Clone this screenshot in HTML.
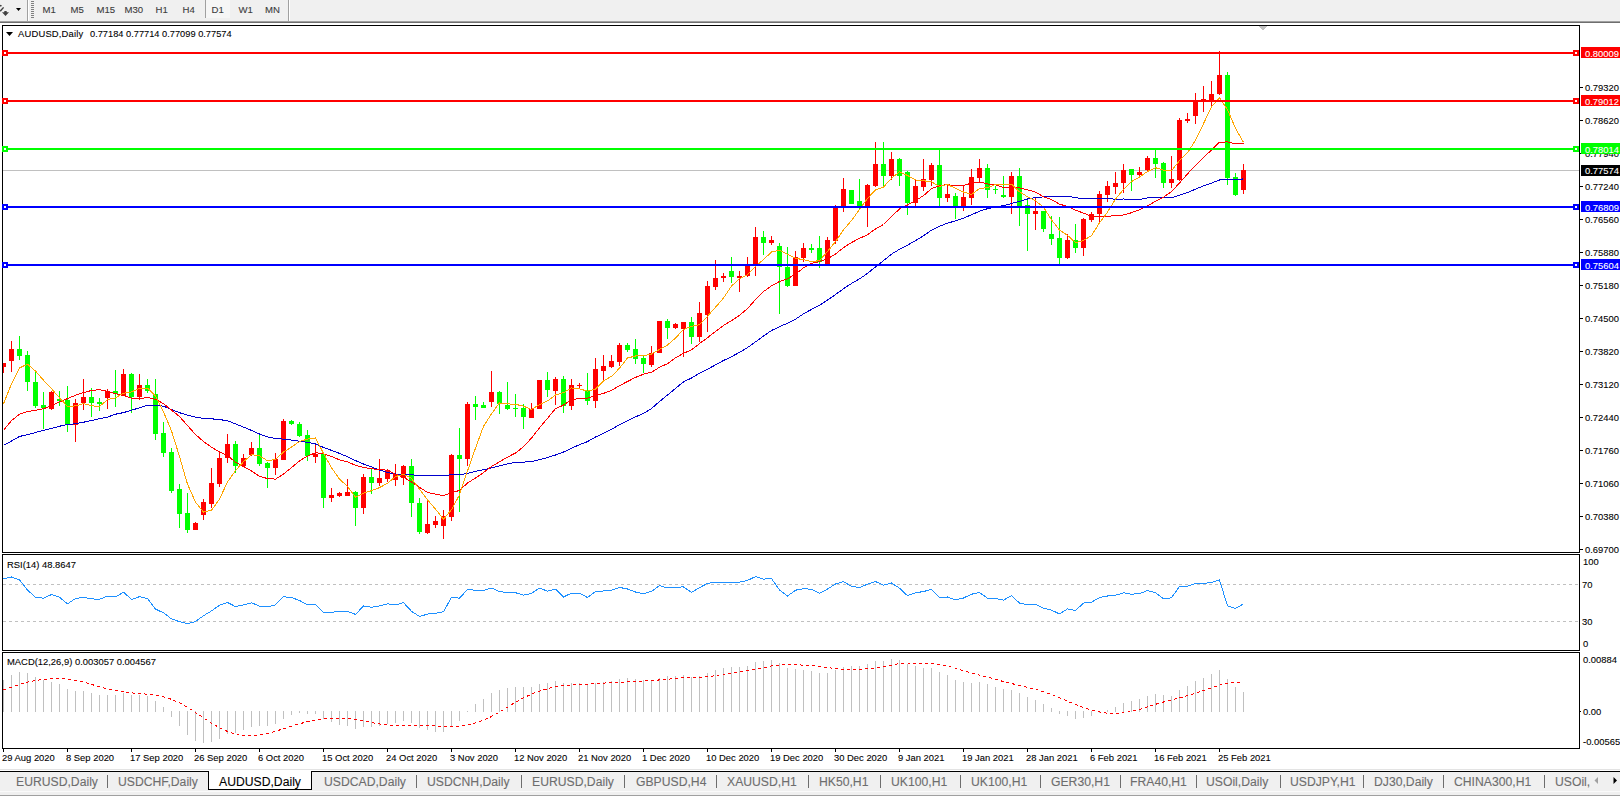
<!DOCTYPE html><html><head><meta charset="utf-8"><style>
html,body{margin:0;padding:0;background:#fff;}
body{width:1620px;height:797px;position:relative;overflow:hidden;font-family:"Liberation Sans",sans-serif;}
.t{position:absolute;white-space:pre;line-height:1;transform-origin:0 0;-webkit-text-stroke:0.1px currentColor;font-family:"Liberation Sans",sans-serif;}
</style></head><body>
<div style="position:absolute;left:0;top:0;width:1620px;height:21px;background:#f0f0f0"></div><div style="position:absolute;left:0;top:21px;width:1620px;height:1px;background:#a0a0a0"></div><div style="position:absolute;left:0;top:22px;width:1620px;height:1px;background:#6e6e6e"></div><div style="position:absolute;left:27px;top:0;width:1px;height:21px;background:#a0a0a0"></div><div style="position:absolute;left:28px;top:0;width:1px;height:21px;background:#fff"></div><div style="position:absolute;left:288px;top:0;width:1px;height:21px;background:#a0a0a0"></div><div style="position:absolute;left:289px;top:0;width:1px;height:21px;background:#fff"></div><div style="position:absolute;left:205px;top:0;width:1px;height:18px;background:#a0a0a0"></div><div style="position:absolute;left:206px;top:0;width:24px;height:18px;background:#f6f6f6"></div><svg width="40" height="21" style="position:absolute;left:0;top:0" ><path d="M0 4.7 L2 5.6 L1.2 6.6 L0 6.6 Z" fill="#404040"/><path d="M3.6 7.4 L0.2 11.2" stroke="#404040" stroke-width="1.4" fill="none"/><path d="M2 12.3 L9 12.3 L5.5 16 Z M4.3 11 H6.7 V12.5 H4.3 Z" fill="#404040"/><path d="M16 8 L21 8 L18.5 11 Z" fill="#000"/><rect x="31" y="1" width="3" height="1" fill="#808080"/><rect x="31" y="3" width="3" height="1" fill="#808080"/><rect x="31" y="5" width="3" height="1" fill="#808080"/><rect x="31" y="7" width="3" height="1" fill="#808080"/><rect x="31" y="9" width="3" height="1" fill="#808080"/><rect x="31" y="11" width="3" height="1" fill="#808080"/><rect x="31" y="13" width="3" height="1" fill="#808080"/><rect x="31" y="15" width="3" height="1" fill="#808080"/><rect x="31" y="17" width="3" height="1" fill="#808080"/></svg><div class="t" style="left:42.5px;top:5px;font-size:9.6px;color:#3c3c3c">M1</div><div class="t" style="left:70.5px;top:5px;font-size:9.6px;color:#3c3c3c">M5</div><div class="t" style="left:96.5px;top:5px;font-size:9.6px;color:#3c3c3c">M15</div><div class="t" style="left:124.5px;top:5px;font-size:9.6px;color:#3c3c3c">M30</div><div class="t" style="left:155.5px;top:5px;font-size:9.6px;color:#3c3c3c">H1</div><div class="t" style="left:182.5px;top:5px;font-size:9.6px;color:#3c3c3c">H4</div><div class="t" style="left:211.5px;top:5px;font-size:9.6px;color:#3c3c3c">D1</div><div class="t" style="left:238.5px;top:5px;font-size:9.6px;color:#3c3c3c">W1</div><div class="t" style="left:265px;top:5px;font-size:9.6px;color:#3c3c3c">MN</div><svg width="1620" height="797" style="position:absolute;left:0;top:0" shape-rendering="crispEdges"><rect x="2.5" y="25.5" width="1577" height="527" fill="none" stroke="#000" stroke-width="1"/><rect x="2.5" y="554.5" width="1577" height="96" fill="none" stroke="#000" stroke-width="1"/><rect x="2.5" y="652.5" width="1577" height="96" fill="none" stroke="#000" stroke-width="1"/><defs><clipPath id="cm"><rect x="3" y="26" width="1576" height="526"/></clipPath><clipPath id="cr"><rect x="3" y="555" width="1576" height="95"/></clipPath><clipPath id="cd"><rect x="3" y="653" width="1576" height="95"/></clipPath></defs><g clip-path="url(#cm)"><rect x="3" y="170" width="1576" height="1" fill="#c0c0c0"/><path d="M1258 26 L1267 26 L1262.5 30.5 Z" fill="#c0c0c0"/><path d="M6 32 L13 32 L9.5 36 Z" fill="#000" shape-rendering="auto"/><rect x="3" y="363" width="1" height="10" fill="#ff0000"/><rect x="1" y="363" width="5" height="4" fill="#ff0000"/><rect x="11" y="341" width="1" height="31" fill="#ff0000"/><rect x="9" y="349" width="5" height="12" fill="#ff0000"/><rect x="19" y="336" width="1" height="24" fill="#00ff00"/><rect x="17" y="349" width="5" height="7" fill="#00ff00"/><rect x="27" y="351" width="1" height="40" fill="#00ff00"/><rect x="25" y="355" width="5" height="27" fill="#00ff00"/><rect x="35" y="372" width="1" height="36" fill="#00ff00"/><rect x="33" y="382" width="5" height="24" fill="#00ff00"/><rect x="43" y="392" width="1" height="37" fill="#00ff00"/><rect x="41" y="405" width="5" height="3" fill="#00ff00"/><rect x="51" y="391" width="1" height="19" fill="#ff0000"/><rect x="49" y="392" width="5" height="17" fill="#ff0000"/><rect x="59" y="391" width="1" height="15" fill="#00ff00"/><rect x="57" y="399" width="5" height="2" fill="#00ff00"/><rect x="67" y="386" width="1" height="46" fill="#00ff00"/><rect x="65" y="400" width="5" height="25" fill="#00ff00"/><rect x="75" y="399" width="1" height="43" fill="#ff0000"/><rect x="73" y="403" width="5" height="22" fill="#ff0000"/><rect x="83" y="379" width="1" height="31" fill="#ff0000"/><rect x="81" y="397" width="5" height="6" fill="#ff0000"/><rect x="91" y="388" width="1" height="29" fill="#00ff00"/><rect x="89" y="397" width="5" height="6" fill="#00ff00"/><rect x="99" y="398" width="1" height="13" fill="#00ff00"/><rect x="97" y="402" width="5" height="2" fill="#00ff00"/><rect x="107" y="389" width="1" height="20" fill="#ff0000"/><rect x="105" y="391" width="5" height="7" fill="#ff0000"/><rect x="115" y="370" width="1" height="37" fill="#00ff00"/><rect x="113" y="391" width="5" height="3" fill="#00ff00"/><rect x="123" y="369" width="1" height="27" fill="#ff0000"/><rect x="121" y="374" width="5" height="22" fill="#ff0000"/><rect x="131" y="373" width="1" height="40" fill="#00ff00"/><rect x="129" y="374" width="5" height="23" fill="#00ff00"/><rect x="139" y="374" width="1" height="26" fill="#ff0000"/><rect x="137" y="385" width="5" height="12" fill="#ff0000"/><rect x="147" y="379" width="1" height="14" fill="#00ff00"/><rect x="145" y="385" width="5" height="6" fill="#00ff00"/><rect x="155" y="379" width="1" height="61" fill="#00ff00"/><rect x="153" y="394" width="5" height="40" fill="#00ff00"/><rect x="163" y="422" width="1" height="35" fill="#00ff00"/><rect x="161" y="433" width="5" height="20" fill="#00ff00"/><rect x="171" y="448" width="1" height="45" fill="#00ff00"/><rect x="169" y="452" width="5" height="39" fill="#00ff00"/><rect x="179" y="484" width="1" height="44" fill="#00ff00"/><rect x="177" y="489" width="5" height="25" fill="#00ff00"/><rect x="187" y="493" width="1" height="40" fill="#00ff00"/><rect x="185" y="513" width="5" height="17" fill="#00ff00"/><rect x="195" y="522" width="1" height="8" fill="#ff0000"/><rect x="193" y="523" width="5" height="7" fill="#ff0000"/><rect x="203" y="499" width="1" height="21" fill="#ff0000"/><rect x="201" y="502" width="5" height="13" fill="#ff0000"/><rect x="211" y="468" width="1" height="40" fill="#ff0000"/><rect x="209" y="483" width="5" height="21" fill="#ff0000"/><rect x="219" y="452" width="1" height="35" fill="#ff0000"/><rect x="217" y="458" width="5" height="26" fill="#ff0000"/><rect x="227" y="434" width="1" height="29" fill="#ff0000"/><rect x="225" y="444" width="5" height="14" fill="#ff0000"/><rect x="235" y="441" width="1" height="32" fill="#00ff00"/><rect x="233" y="444" width="5" height="22" fill="#00ff00"/><rect x="243" y="454" width="1" height="12" fill="#ff0000"/><rect x="241" y="458" width="5" height="8" fill="#ff0000"/><rect x="251" y="442" width="1" height="14" fill="#ff0000"/><rect x="249" y="448" width="5" height="7" fill="#ff0000"/><rect x="259" y="435" width="1" height="31" fill="#00ff00"/><rect x="257" y="448" width="5" height="16" fill="#00ff00"/><rect x="267" y="462" width="1" height="26" fill="#00ff00"/><rect x="265" y="463" width="5" height="5" fill="#00ff00"/><rect x="275" y="453" width="1" height="22" fill="#ff0000"/><rect x="273" y="459" width="5" height="9" fill="#ff0000"/><rect x="283" y="419" width="1" height="41" fill="#ff0000"/><rect x="281" y="421" width="5" height="39" fill="#ff0000"/><rect x="291" y="420" width="1" height="5" fill="#00ff00"/><rect x="289" y="421" width="5" height="3" fill="#00ff00"/><rect x="299" y="422" width="1" height="15" fill="#00ff00"/><rect x="297" y="424" width="5" height="12" fill="#00ff00"/><rect x="307" y="430" width="1" height="31" fill="#00ff00"/><rect x="305" y="435" width="5" height="21" fill="#00ff00"/><rect x="315" y="443" width="1" height="20" fill="#ff0000"/><rect x="313" y="454" width="5" height="3" fill="#ff0000"/><rect x="323" y="452" width="1" height="56" fill="#00ff00"/><rect x="321" y="454" width="5" height="44" fill="#00ff00"/><rect x="331" y="488" width="1" height="14" fill="#ff0000"/><rect x="329" y="495" width="5" height="3" fill="#ff0000"/><rect x="339" y="492" width="1" height="5" fill="#ff0000"/><rect x="337" y="493" width="5" height="3" fill="#ff0000"/><rect x="347" y="479" width="1" height="17" fill="#ff0000"/><rect x="345" y="492" width="5" height="4" fill="#ff0000"/><rect x="355" y="491" width="1" height="35" fill="#00ff00"/><rect x="353" y="492" width="5" height="16" fill="#00ff00"/><rect x="363" y="474" width="1" height="40" fill="#ff0000"/><rect x="361" y="477" width="5" height="31" fill="#ff0000"/><rect x="371" y="469" width="1" height="25" fill="#00ff00"/><rect x="369" y="477" width="5" height="6" fill="#00ff00"/><rect x="379" y="459" width="1" height="27" fill="#ff0000"/><rect x="377" y="478" width="5" height="5" fill="#ff0000"/><rect x="387" y="469" width="1" height="13" fill="#ff0000"/><rect x="385" y="470" width="5" height="9" fill="#ff0000"/><rect x="395" y="464" width="1" height="22" fill="#ff0000"/><rect x="393" y="474" width="5" height="6" fill="#ff0000"/><rect x="403" y="465" width="1" height="20" fill="#ff0000"/><rect x="401" y="466" width="5" height="12" fill="#ff0000"/><rect x="411" y="459" width="1" height="58" fill="#00ff00"/><rect x="409" y="466" width="5" height="37" fill="#00ff00"/><rect x="419" y="498" width="1" height="36" fill="#00ff00"/><rect x="417" y="503" width="5" height="29" fill="#00ff00"/><rect x="427" y="500" width="1" height="34" fill="#ff0000"/><rect x="425" y="524" width="5" height="9" fill="#ff0000"/><rect x="435" y="516" width="1" height="12" fill="#ff0000"/><rect x="433" y="521" width="5" height="4" fill="#ff0000"/><rect x="443" y="510" width="1" height="29" fill="#ff0000"/><rect x="441" y="516" width="5" height="10" fill="#ff0000"/><rect x="451" y="454" width="1" height="67" fill="#ff0000"/><rect x="449" y="455" width="5" height="62" fill="#ff0000"/><rect x="459" y="428" width="1" height="84" fill="#00ff00"/><rect x="457" y="455" width="5" height="4" fill="#00ff00"/><rect x="467" y="402" width="1" height="64" fill="#ff0000"/><rect x="465" y="404" width="5" height="55" fill="#ff0000"/><rect x="475" y="396" width="1" height="24" fill="#00ff00"/><rect x="473" y="404" width="5" height="3" fill="#00ff00"/><rect x="483" y="402" width="1" height="6" fill="#00ff00"/><rect x="481" y="405" width="5" height="3" fill="#00ff00"/><rect x="491" y="371" width="1" height="36" fill="#ff0000"/><rect x="489" y="392" width="5" height="10" fill="#ff0000"/><rect x="499" y="391" width="1" height="23" fill="#00ff00"/><rect x="497" y="392" width="5" height="12" fill="#00ff00"/><rect x="507" y="382" width="1" height="28" fill="#00ff00"/><rect x="505" y="405" width="5" height="4" fill="#00ff00"/><rect x="515" y="394" width="1" height="23" fill="#00ff00"/><rect x="513" y="408" width="5" height="1" fill="#00ff00"/><rect x="523" y="404" width="1" height="25" fill="#00ff00"/><rect x="521" y="408" width="5" height="9" fill="#00ff00"/><rect x="531" y="403" width="1" height="15" fill="#ff0000"/><rect x="529" y="409" width="5" height="9" fill="#ff0000"/><rect x="539" y="380" width="1" height="29" fill="#ff0000"/><rect x="537" y="380" width="5" height="29" fill="#ff0000"/><rect x="547" y="372" width="1" height="25" fill="#00ff00"/><rect x="545" y="380" width="5" height="10" fill="#00ff00"/><rect x="555" y="377" width="1" height="28" fill="#ff0000"/><rect x="553" y="379" width="5" height="12" fill="#ff0000"/><rect x="563" y="376" width="1" height="37" fill="#00ff00"/><rect x="561" y="379" width="5" height="27" fill="#00ff00"/><rect x="571" y="379" width="1" height="31" fill="#ff0000"/><rect x="569" y="385" width="5" height="21" fill="#ff0000"/><rect x="579" y="383" width="1" height="6" fill="#ff0000"/><rect x="577" y="385" width="5" height="1" fill="#ff0000"/><rect x="587" y="373" width="1" height="32" fill="#00ff00"/><rect x="585" y="391" width="5" height="10" fill="#00ff00"/><rect x="595" y="358" width="1" height="50" fill="#ff0000"/><rect x="593" y="369" width="5" height="32" fill="#ff0000"/><rect x="603" y="355" width="1" height="25" fill="#ff0000"/><rect x="601" y="366" width="5" height="5" fill="#ff0000"/><rect x="611" y="355" width="1" height="13" fill="#ff0000"/><rect x="609" y="361" width="5" height="6" fill="#ff0000"/><rect x="619" y="343" width="1" height="23" fill="#ff0000"/><rect x="617" y="345" width="5" height="17" fill="#ff0000"/><rect x="627" y="343" width="1" height="9" fill="#00ff00"/><rect x="625" y="345" width="5" height="5" fill="#00ff00"/><rect x="635" y="339" width="1" height="25" fill="#00ff00"/><rect x="633" y="349" width="5" height="10" fill="#00ff00"/><rect x="643" y="356" width="1" height="17" fill="#00ff00"/><rect x="641" y="358" width="5" height="6" fill="#00ff00"/><rect x="651" y="346" width="1" height="21" fill="#ff0000"/><rect x="649" y="353" width="5" height="12" fill="#ff0000"/><rect x="659" y="321" width="1" height="32" fill="#ff0000"/><rect x="657" y="321" width="5" height="32" fill="#ff0000"/><rect x="667" y="319" width="1" height="20" fill="#00ff00"/><rect x="665" y="321" width="5" height="7" fill="#00ff00"/><rect x="675" y="323" width="1" height="6" fill="#ff0000"/><rect x="673" y="324" width="5" height="4" fill="#ff0000"/><rect x="683" y="322" width="1" height="35" fill="#ff0000"/><rect x="681" y="322" width="5" height="7" fill="#ff0000"/><rect x="691" y="317" width="1" height="27" fill="#00ff00"/><rect x="689" y="322" width="5" height="15" fill="#00ff00"/><rect x="699" y="302" width="1" height="40" fill="#ff0000"/><rect x="697" y="313" width="5" height="24" fill="#ff0000"/><rect x="707" y="281" width="1" height="51" fill="#ff0000"/><rect x="705" y="286" width="5" height="29" fill="#ff0000"/><rect x="715" y="260" width="1" height="30" fill="#ff0000"/><rect x="713" y="278" width="5" height="9" fill="#ff0000"/><rect x="723" y="273" width="1" height="9" fill="#ff0000"/><rect x="721" y="276" width="5" height="2" fill="#ff0000"/><rect x="731" y="257" width="1" height="26" fill="#00ff00"/><rect x="729" y="271" width="5" height="6" fill="#00ff00"/><rect x="739" y="271" width="1" height="21" fill="#ff0000"/><rect x="737" y="276" width="5" height="2" fill="#ff0000"/><rect x="747" y="257" width="1" height="20" fill="#ff0000"/><rect x="745" y="265" width="5" height="11" fill="#ff0000"/><rect x="755" y="227" width="1" height="49" fill="#ff0000"/><rect x="753" y="237" width="5" height="28" fill="#ff0000"/><rect x="763" y="231" width="1" height="24" fill="#00ff00"/><rect x="761" y="237" width="5" height="6" fill="#00ff00"/><rect x="771" y="236" width="1" height="9" fill="#ff0000"/><rect x="769" y="240" width="5" height="3" fill="#ff0000"/><rect x="779" y="243" width="1" height="71" fill="#00ff00"/><rect x="777" y="246" width="5" height="21" fill="#00ff00"/><rect x="787" y="247" width="1" height="40" fill="#00ff00"/><rect x="785" y="267" width="5" height="19" fill="#00ff00"/><rect x="795" y="251" width="1" height="35" fill="#ff0000"/><rect x="793" y="257" width="5" height="29" fill="#ff0000"/><rect x="803" y="243" width="1" height="19" fill="#ff0000"/><rect x="801" y="248" width="5" height="10" fill="#ff0000"/><rect x="811" y="244" width="1" height="9" fill="#00ff00"/><rect x="809" y="248" width="5" height="2" fill="#00ff00"/><rect x="819" y="236" width="1" height="32" fill="#00ff00"/><rect x="817" y="248" width="5" height="14" fill="#00ff00"/><rect x="827" y="237" width="1" height="27" fill="#ff0000"/><rect x="825" y="240" width="5" height="24" fill="#ff0000"/><rect x="835" y="205" width="1" height="39" fill="#ff0000"/><rect x="833" y="207" width="5" height="34" fill="#ff0000"/><rect x="843" y="178" width="1" height="34" fill="#ff0000"/><rect x="841" y="189" width="5" height="17" fill="#ff0000"/><rect x="851" y="190" width="1" height="14" fill="#00ff00"/><rect x="849" y="190" width="5" height="14" fill="#00ff00"/><rect x="859" y="179" width="1" height="30" fill="#00ff00"/><rect x="857" y="201" width="5" height="6" fill="#00ff00"/><rect x="867" y="184" width="1" height="43" fill="#ff0000"/><rect x="865" y="185" width="5" height="22" fill="#ff0000"/><rect x="875" y="142" width="1" height="45" fill="#ff0000"/><rect x="873" y="164" width="5" height="22" fill="#ff0000"/><rect x="883" y="142" width="1" height="44" fill="#00ff00"/><rect x="881" y="164" width="5" height="12" fill="#00ff00"/><rect x="891" y="152" width="1" height="28" fill="#ff0000"/><rect x="889" y="159" width="5" height="17" fill="#ff0000"/><rect x="899" y="158" width="1" height="28" fill="#00ff00"/><rect x="897" y="159" width="5" height="17" fill="#00ff00"/><rect x="907" y="171" width="1" height="44" fill="#00ff00"/><rect x="905" y="172" width="5" height="31" fill="#00ff00"/><rect x="915" y="180" width="1" height="26" fill="#ff0000"/><rect x="913" y="186" width="5" height="17" fill="#ff0000"/><rect x="923" y="159" width="1" height="32" fill="#ff0000"/><rect x="921" y="179" width="5" height="8" fill="#ff0000"/><rect x="931" y="163" width="1" height="23" fill="#ff0000"/><rect x="929" y="165" width="5" height="15" fill="#ff0000"/><rect x="939" y="150" width="1" height="56" fill="#00ff00"/><rect x="937" y="165" width="5" height="33" fill="#00ff00"/><rect x="947" y="185" width="1" height="17" fill="#ff0000"/><rect x="945" y="194" width="5" height="4" fill="#ff0000"/><rect x="955" y="193" width="1" height="26" fill="#00ff00"/><rect x="953" y="196" width="5" height="10" fill="#00ff00"/><rect x="963" y="186" width="1" height="25" fill="#ff0000"/><rect x="961" y="197" width="5" height="9" fill="#ff0000"/><rect x="971" y="169" width="1" height="36" fill="#ff0000"/><rect x="969" y="177" width="5" height="21" fill="#ff0000"/><rect x="979" y="159" width="1" height="24" fill="#ff0000"/><rect x="977" y="168" width="5" height="10" fill="#ff0000"/><rect x="987" y="164" width="1" height="34" fill="#00ff00"/><rect x="985" y="168" width="5" height="22" fill="#00ff00"/><rect x="995" y="186" width="1" height="8" fill="#00ff00"/><rect x="993" y="189" width="5" height="1" fill="#00ff00"/><rect x="1003" y="176" width="1" height="22" fill="#00ff00"/><rect x="1001" y="195" width="5" height="2" fill="#00ff00"/><rect x="1011" y="172" width="1" height="42" fill="#ff0000"/><rect x="1009" y="176" width="5" height="21" fill="#ff0000"/><rect x="1019" y="168" width="1" height="58" fill="#00ff00"/><rect x="1017" y="176" width="5" height="30" fill="#00ff00"/><rect x="1027" y="199" width="1" height="52" fill="#00ff00"/><rect x="1025" y="205" width="5" height="9" fill="#00ff00"/><rect x="1035" y="198" width="1" height="32" fill="#ff0000"/><rect x="1033" y="211" width="5" height="3" fill="#ff0000"/><rect x="1043" y="211" width="1" height="21" fill="#00ff00"/><rect x="1041" y="211" width="5" height="18" fill="#00ff00"/><rect x="1051" y="216" width="1" height="29" fill="#00ff00"/><rect x="1049" y="234" width="5" height="5" fill="#00ff00"/><rect x="1059" y="217" width="1" height="47" fill="#00ff00"/><rect x="1057" y="238" width="5" height="20" fill="#00ff00"/><rect x="1067" y="234" width="1" height="25" fill="#ff0000"/><rect x="1065" y="240" width="5" height="18" fill="#ff0000"/><rect x="1075" y="224" width="1" height="29" fill="#00ff00"/><rect x="1073" y="240" width="5" height="8" fill="#00ff00"/><rect x="1083" y="218" width="1" height="38" fill="#ff0000"/><rect x="1081" y="219" width="5" height="29" fill="#ff0000"/><rect x="1091" y="212" width="1" height="10" fill="#ff0000"/><rect x="1089" y="214" width="5" height="6" fill="#ff0000"/><rect x="1099" y="191" width="1" height="32" fill="#ff0000"/><rect x="1097" y="194" width="5" height="20" fill="#ff0000"/><rect x="1107" y="181" width="1" height="21" fill="#ff0000"/><rect x="1105" y="186" width="5" height="9" fill="#ff0000"/><rect x="1115" y="172" width="1" height="22" fill="#ff0000"/><rect x="1113" y="183" width="5" height="4" fill="#ff0000"/><rect x="1123" y="164" width="1" height="29" fill="#ff0000"/><rect x="1121" y="170" width="5" height="13" fill="#ff0000"/><rect x="1131" y="169" width="1" height="22" fill="#00ff00"/><rect x="1129" y="169" width="5" height="6" fill="#00ff00"/><rect x="1139" y="167" width="1" height="11" fill="#ff0000"/><rect x="1137" y="172" width="5" height="3" fill="#ff0000"/><rect x="1147" y="156" width="1" height="16" fill="#ff0000"/><rect x="1145" y="158" width="5" height="12" fill="#ff0000"/><rect x="1155" y="150" width="1" height="28" fill="#00ff00"/><rect x="1153" y="158" width="5" height="6" fill="#00ff00"/><rect x="1163" y="162" width="1" height="26" fill="#00ff00"/><rect x="1161" y="163" width="5" height="20" fill="#00ff00"/><rect x="1171" y="156" width="1" height="32" fill="#ff0000"/><rect x="1169" y="179" width="5" height="4" fill="#ff0000"/><rect x="1179" y="118" width="1" height="63" fill="#ff0000"/><rect x="1177" y="120" width="5" height="60" fill="#ff0000"/><rect x="1187" y="113" width="1" height="10" fill="#ff0000"/><rect x="1185" y="119" width="5" height="2" fill="#ff0000"/><rect x="1195" y="93" width="1" height="31" fill="#ff0000"/><rect x="1193" y="101" width="5" height="15" fill="#ff0000"/><rect x="1203" y="86" width="1" height="26" fill="#ff0000"/><rect x="1201" y="99" width="5" height="1" fill="#ff0000"/><rect x="1211" y="81" width="1" height="25" fill="#ff0000"/><rect x="1209" y="94" width="5" height="6" fill="#ff0000"/><rect x="1219" y="51" width="1" height="44" fill="#ff0000"/><rect x="1217" y="75" width="5" height="19" fill="#ff0000"/><rect x="1227" y="72" width="1" height="113" fill="#00ff00"/><rect x="1225" y="75" width="5" height="103" fill="#00ff00"/><rect x="1235" y="173" width="1" height="23" fill="#00ff00"/><rect x="1233" y="177" width="5" height="18" fill="#00ff00"/><rect x="1243" y="164" width="1" height="30" fill="#ff0000"/><rect x="1241" y="170" width="5" height="20" fill="#ff0000"/><polyline points="3.5,445.4 11.5,441.0 19.5,436.5 27.5,434.6 35.5,432.5 43.5,430.4 51.5,428.5 59.5,426.2 67.5,424.6 75.5,423.8 83.5,422.2 91.5,420.6 99.5,418.7 107.5,417.1 115.5,414.2 123.5,412.6 131.5,410.2 139.5,407.8 147.5,405.3 155.5,405.4 163.5,406.2 171.5,409.5 179.5,412.7 187.5,415.1 195.5,417.2 203.5,418.3 211.5,418.8 219.5,419.6 227.5,420.7 235.5,423.9 243.5,427.1 251.5,430.4 259.5,434.0 267.5,436.9 275.5,438.6 283.5,439.1 291.5,440.1 299.5,441.3 307.5,442.3 315.5,444.0 323.5,447.4 331.5,450.4 339.5,453.4 347.5,456.8 355.5,460.6 363.5,464.0 371.5,466.9 379.5,470.0 387.5,472.6 395.5,474.0 403.5,474.4 411.5,474.8 419.5,475.4 427.5,475.2 435.5,475.1 443.5,475.6 451.5,474.7 459.5,474.7 467.5,473.4 475.5,471.4 483.5,469.7 491.5,467.9 499.5,465.9 507.5,463.9 515.5,462.2 523.5,462.1 531.5,461.6 539.5,459.7 547.5,457.5 555.5,455.0 563.5,452.0 571.5,448.3 579.5,444.7 587.5,441.6 595.5,437.0 603.5,433.3 611.5,429.2 619.5,424.8 627.5,420.8 635.5,416.9 643.5,413.5 651.5,408.5 659.5,401.5 667.5,395.0 675.5,388.4 683.5,381.9 691.5,378.0 699.5,373.1 707.5,369.2 715.5,364.9 723.5,360.5 731.5,356.7 739.5,352.4 747.5,347.6 755.5,341.9 763.5,336.1 771.5,330.5 779.5,326.7 787.5,323.2 795.5,319.2 803.5,313.9 811.5,309.4 819.5,305.3 827.5,300.0 835.5,294.6 843.5,288.7 851.5,283.5 859.5,278.9 867.5,273.4 875.5,266.9 883.5,260.6 891.5,254.1 899.5,249.3 907.5,245.1 915.5,240.6 923.5,235.8 931.5,230.1 939.5,226.2 947.5,223.2 955.5,220.8 963.5,218.1 971.5,214.8 979.5,211.2 987.5,208.7 995.5,207.1 1003.5,205.6 1011.5,203.5 1019.5,201.4 1027.5,199.0 1035.5,197.5 1043.5,196.9 1051.5,196.5 1059.5,196.3 1067.5,196.3 1075.5,197.7 1083.5,198.7 1091.5,199.0 1099.5,198.6 1107.5,198.6 1115.5,199.2 1123.5,199.0 1131.5,199.6 1139.5,199.4 1147.5,197.9 1155.5,197.2 1163.5,197.3 1171.5,197.7 1179.5,195.1 1187.5,192.6 1195.5,189.2 1203.5,185.9 1211.5,183.1 1219.5,180.0 1227.5,179.6 1235.5,179.8 1243.5,178.9" fill="none" stroke="#0000cd" stroke-width="1" /><polyline points="3.5,430.4 11.5,420.5 19.5,414.3 27.5,411.6 35.5,410.3 43.5,408.8 51.5,405.5 59.5,401.8 67.5,398.6 75.5,395.3 83.5,392.6 91.5,390.5 99.5,389.7 107.5,391.4 115.5,393.6 123.5,395.4 131.5,398.3 139.5,398.6 147.5,397.5 155.5,399.3 163.5,403.7 171.5,410.1 179.5,416.5 187.5,425.5 195.5,434.5 203.5,441.6 211.5,447.2 219.5,452.0 227.5,455.6 235.5,462.2 243.5,466.5 251.5,471.0 259.5,476.2 267.5,478.6 275.5,479.1 283.5,474.1 291.5,467.6 299.5,460.9 307.5,456.1 315.5,452.7 323.5,453.7 331.5,456.4 339.5,459.9 347.5,461.8 355.5,465.4 363.5,467.4 371.5,468.8 379.5,469.5 387.5,470.3 395.5,474.1 403.5,477.2 411.5,482.0 419.5,487.4 427.5,492.4 435.5,494.1 443.5,495.6 451.5,492.8 459.5,490.4 467.5,483.0 475.5,478.0 483.5,472.6 491.5,466.5 499.5,461.8 507.5,457.1 515.5,453.0 523.5,446.8 531.5,438.0 539.5,427.8 547.5,418.4 555.5,408.6 563.5,405.1 571.5,399.8 579.5,398.5 587.5,398.1 595.5,395.3 603.5,393.4 611.5,390.3 619.5,385.7 627.5,381.5 635.5,377.4 643.5,374.2 651.5,372.2 659.5,367.3 667.5,363.7 675.5,357.8 683.5,353.3 691.5,349.9 699.5,343.6 707.5,337.7 715.5,331.4 723.5,325.4 731.5,320.6 739.5,315.3 747.5,308.6 755.5,299.5 763.5,291.6 771.5,285.8 779.5,281.5 787.5,278.8 795.5,274.1 803.5,267.8 811.5,263.3 819.5,261.6 827.5,258.9 835.5,254.0 843.5,247.7 851.5,242.5 859.5,238.4 867.5,234.7 875.5,229.0 883.5,224.5 891.5,216.7 899.5,208.9 907.5,205.0 915.5,200.6 923.5,195.6 931.5,188.6 939.5,185.6 947.5,184.6 955.5,185.8 963.5,185.4 971.5,183.2 979.5,182.0 987.5,183.9 995.5,184.9 1003.5,187.6 1011.5,187.7 1019.5,187.8 1027.5,189.8 1035.5,192.1 1043.5,196.7 1051.5,199.6 1059.5,204.1 1067.5,206.5 1075.5,210.2 1083.5,213.1 1091.5,216.4 1099.5,216.7 1107.5,216.4 1115.5,215.4 1123.5,215.0 1131.5,212.7 1139.5,209.7 1147.5,205.9 1155.5,201.3 1163.5,197.2 1171.5,191.6 1179.5,183.0 1187.5,173.9 1195.5,165.5 1203.5,157.3 1211.5,150.1 1219.5,142.2 1227.5,141.9 1235.5,143.7 1243.5,143.3" fill="none" stroke="#ff0000" stroke-width="1" /><polyline points="3.5,403.7 11.5,383.9 19.5,368.0 27.5,364.1 35.5,371.1 43.5,380.2 51.5,388.7 59.5,397.8 67.5,406.4 75.5,405.9 83.5,403.6 91.5,405.8 99.5,406.4 107.5,399.7 115.5,397.8 123.5,393.2 131.5,392.0 139.5,388.2 147.5,388.2 155.5,396.2 163.5,411.9 171.5,430.8 179.5,456.6 187.5,484.2 195.5,502.1 203.5,512.0 211.5,510.3 219.5,499.1 227.5,482.0 235.5,470.6 243.5,461.7 251.5,454.7 259.5,455.9 267.5,460.7 275.5,459.4 283.5,452.0 291.5,447.1 299.5,441.5 307.5,439.1 315.5,438.0 323.5,453.4 331.5,467.7 339.5,479.1 347.5,486.5 355.5,497.2 363.5,493.1 371.5,490.7 379.5,487.6 387.5,483.2 395.5,476.6 403.5,474.3 411.5,478.3 419.5,489.2 427.5,499.9 435.5,509.2 443.5,519.2 451.5,509.6 459.5,494.9 467.5,470.9 475.5,448.1 483.5,426.3 491.5,413.8 499.5,402.9 507.5,403.9 515.5,404.3 523.5,406.2 531.5,409.5 539.5,404.7 547.5,400.9 555.5,394.9 563.5,392.7 571.5,387.9 579.5,388.9 587.5,391.1 595.5,389.1 603.5,381.1 611.5,376.3 619.5,368.2 627.5,358.0 635.5,356.0 643.5,355.8 651.5,354.1 659.5,349.4 667.5,345.0 675.5,338.0 683.5,329.5 691.5,326.4 699.5,324.7 707.5,316.3 715.5,307.2 723.5,298.1 731.5,286.1 739.5,278.8 747.5,274.6 755.5,266.3 763.5,259.6 771.5,252.0 779.5,250.2 787.5,254.4 795.5,258.4 803.5,259.6 811.5,261.7 819.5,260.6 827.5,251.5 835.5,241.6 843.5,229.8 851.5,220.5 859.5,209.5 867.5,198.5 875.5,189.8 883.5,187.1 891.5,178.2 899.5,171.8 907.5,175.5 915.5,180.0 923.5,180.7 931.5,181.9 939.5,186.3 947.5,184.5 955.5,188.4 963.5,192.0 971.5,194.4 979.5,188.5 987.5,187.6 995.5,184.5 1003.5,184.4 1011.5,184.2 1019.5,191.8 1027.5,196.7 1035.5,200.8 1043.5,207.2 1051.5,219.8 1059.5,230.0 1067.5,235.3 1075.5,242.6 1083.5,240.5 1091.5,235.6 1099.5,222.8 1107.5,212.1 1115.5,199.1 1123.5,189.3 1131.5,181.5 1139.5,177.1 1147.5,171.5 1155.5,167.7 1163.5,170.2 1171.5,170.9 1179.5,160.5 1187.5,152.8 1195.5,140.3 1203.5,123.6 1211.5,106.8 1219.5,97.8 1227.5,109.6 1235.5,128.3 1243.5,142.4" fill="none" stroke="#ffa500" stroke-width="1" /><rect x="3" y="52" width="1576" height="2" fill="#ff0000"/><rect x="2" y="50" width="6" height="6" fill="#ff0000"/><rect x="4" y="52" width="2" height="2" fill="#fff"/><rect x="1573" y="50" width="6" height="6" fill="#ff0000"/><rect x="1575" y="52" width="2" height="2" fill="#fff"/><rect x="3" y="100" width="1576" height="2" fill="#ff0000"/><rect x="2" y="98" width="6" height="6" fill="#ff0000"/><rect x="4" y="100" width="2" height="2" fill="#fff"/><rect x="1573" y="98" width="6" height="6" fill="#ff0000"/><rect x="1575" y="100" width="2" height="2" fill="#fff"/><rect x="3" y="148" width="1576" height="2" fill="#00ff00"/><rect x="2" y="146" width="6" height="6" fill="#00ff00"/><rect x="4" y="148" width="2" height="2" fill="#fff"/><rect x="1573" y="146" width="6" height="6" fill="#00ff00"/><rect x="1575" y="148" width="2" height="2" fill="#fff"/><rect x="3" y="206" width="1576" height="2" fill="#0000ff"/><rect x="2" y="204" width="6" height="6" fill="#0000ff"/><rect x="4" y="206" width="2" height="2" fill="#fff"/><rect x="1573" y="204" width="6" height="6" fill="#0000ff"/><rect x="1575" y="206" width="2" height="2" fill="#fff"/><rect x="3" y="264" width="1576" height="2" fill="#0000ff"/><rect x="2" y="262" width="6" height="6" fill="#0000ff"/><rect x="4" y="264" width="2" height="2" fill="#fff"/><rect x="1573" y="262" width="6" height="6" fill="#0000ff"/><rect x="1575" y="264" width="2" height="2" fill="#fff"/></g><rect x="2" y="50" width="6" height="6" fill="#ff0000"/><rect x="4" y="52" width="2" height="2" fill="#fff"/><rect x="2" y="98" width="6" height="6" fill="#ff0000"/><rect x="4" y="100" width="2" height="2" fill="#fff"/><rect x="2" y="146" width="6" height="6" fill="#00ff00"/><rect x="4" y="148" width="2" height="2" fill="#fff"/><rect x="2" y="204" width="6" height="6" fill="#0000ff"/><rect x="4" y="206" width="2" height="2" fill="#fff"/><rect x="2" y="262" width="6" height="6" fill="#0000ff"/><rect x="4" y="264" width="2" height="2" fill="#fff"/><rect x="1580" y="87" width="3" height="1" fill="#000"/><rect x="1580" y="120" width="3" height="1" fill="#000"/><rect x="1580" y="153" width="3" height="1" fill="#000"/><rect x="1580" y="186" width="3" height="1" fill="#000"/><rect x="1580" y="219" width="3" height="1" fill="#000"/><rect x="1580" y="252" width="3" height="1" fill="#000"/><rect x="1580" y="285" width="3" height="1" fill="#000"/><rect x="1580" y="318" width="3" height="1" fill="#000"/><rect x="1580" y="351" width="3" height="1" fill="#000"/><rect x="1580" y="384" width="3" height="1" fill="#000"/><rect x="1580" y="417" width="3" height="1" fill="#000"/><rect x="1580" y="450" width="3" height="1" fill="#000"/><rect x="1580" y="483" width="3" height="1" fill="#000"/><rect x="1580" y="516" width="3" height="1" fill="#000"/><rect x="1580" y="549" width="3" height="1" fill="#000"/><g clip-path="url(#cr)"><line x1="3" y1="584.5" x2="1579" y2="584.5" stroke="#c0c0c0" stroke-width="1" stroke-dasharray="3,3" shape-rendering="crispEdges"/><line x1="3" y1="621.5" x2="1579" y2="621.5" stroke="#c0c0c0" stroke-width="1" stroke-dasharray="3,3" shape-rendering="crispEdges"/><polyline points="3.5,578.8 11.5,577.0 19.5,579.8 27.5,590.0 35.5,597.4 43.5,598.2 51.5,594.5 59.5,597.2 67.5,603.8 75.5,598.6 83.5,597.2 91.5,598.9 99.5,599.3 107.5,596.1 115.5,596.9 123.5,592.2 131.5,599.4 139.5,596.7 147.5,598.6 155.5,609.1 163.5,612.8 171.5,618.9 179.5,621.7 187.5,623.6 195.5,621.5 203.5,615.7 211.5,610.9 219.5,605.3 227.5,602.5 235.5,606.6 243.5,604.9 251.5,602.8 259.5,606.1 267.5,606.9 275.5,604.8 283.5,596.8 291.5,597.5 299.5,600.5 307.5,604.8 315.5,604.4 323.5,612.8 331.5,612.2 339.5,611.6 347.5,611.4 355.5,614.4 363.5,606.0 371.5,607.3 379.5,605.9 387.5,603.8 395.5,605.0 403.5,602.6 411.5,611.3 419.5,616.5 427.5,614.1 435.5,613.2 443.5,611.8 451.5,597.3 459.5,598.2 467.5,589.5 475.5,590.2 483.5,590.4 491.5,588.1 499.5,591.5 507.5,592.6 515.5,592.7 523.5,595.1 531.5,593.4 539.5,588.1 547.5,591.2 555.5,589.2 563.5,597.0 571.5,593.1 579.5,593.1 587.5,597.5 595.5,591.5 603.5,591.0 611.5,590.1 619.5,587.4 627.5,589.0 635.5,592.0 643.5,593.8 651.5,591.3 659.5,585.7 667.5,587.9 675.5,587.2 683.5,586.9 691.5,592.4 699.5,587.7 707.5,583.4 715.5,582.3 723.5,582.1 731.5,582.5 739.5,582.2 747.5,580.4 755.5,576.6 763.5,579.1 771.5,578.6 779.5,589.9 787.5,596.1 795.5,590.2 803.5,588.7 811.5,589.3 819.5,593.4 827.5,589.1 835.5,584.0 843.5,581.6 851.5,586.3 859.5,587.5 867.5,584.2 875.5,581.5 883.5,585.2 891.5,583.0 899.5,588.2 907.5,595.7 915.5,592.7 923.5,591.6 931.5,589.3 939.5,597.7 947.5,597.0 955.5,599.9 963.5,598.0 971.5,594.2 979.5,592.6 987.5,598.2 995.5,598.5 1003.5,600.1 1011.5,595.6 1019.5,603.1 1027.5,604.8 1035.5,604.1 1043.5,608.2 1051.5,610.2 1059.5,613.9 1067.5,608.9 1075.5,610.5 1083.5,603.1 1091.5,602.1 1099.5,597.6 1107.5,596.0 1115.5,595.3 1123.5,592.8 1131.5,594.2 1139.5,593.6 1147.5,590.6 1155.5,592.6 1163.5,598.9 1171.5,597.8 1179.5,586.4 1187.5,586.3 1195.5,583.6 1203.5,583.4 1211.5,582.6 1219.5,580.0 1227.5,605.8 1235.5,608.4 1243.5,603.9" fill="none" stroke="#1e90ff" stroke-width="1" /></g><g clip-path="url(#cd)"><rect x="3" y="680" width="1" height="32" fill="#c0c0c0"/><rect x="11" y="675" width="1" height="37" fill="#c0c0c0"/><rect x="19" y="672" width="1" height="40" fill="#c0c0c0"/><rect x="27" y="673" width="1" height="39" fill="#c0c0c0"/><rect x="35" y="677" width="1" height="35" fill="#c0c0c0"/><rect x="43" y="680" width="1" height="32" fill="#c0c0c0"/><rect x="51" y="682" width="1" height="30" fill="#c0c0c0"/><rect x="59" y="684" width="1" height="28" fill="#c0c0c0"/><rect x="67" y="689" width="1" height="23" fill="#c0c0c0"/><rect x="75" y="691" width="1" height="21" fill="#c0c0c0"/><rect x="83" y="691" width="1" height="21" fill="#c0c0c0"/><rect x="91" y="693" width="1" height="19" fill="#c0c0c0"/><rect x="99" y="695" width="1" height="17" fill="#c0c0c0"/><rect x="107" y="695" width="1" height="17" fill="#c0c0c0"/><rect x="115" y="695" width="1" height="17" fill="#c0c0c0"/><rect x="123" y="693" width="1" height="19" fill="#c0c0c0"/><rect x="131" y="695" width="1" height="17" fill="#c0c0c0"/><rect x="139" y="695" width="1" height="17" fill="#c0c0c0"/><rect x="147" y="696" width="1" height="16" fill="#c0c0c0"/><rect x="155" y="701" width="1" height="11" fill="#c0c0c0"/><rect x="163" y="707" width="1" height="5" fill="#c0c0c0"/><rect x="171" y="711" width="1" height="6" fill="#c0c0c0"/><rect x="179" y="711" width="1" height="15" fill="#c0c0c0"/><rect x="187" y="711" width="1" height="24" fill="#c0c0c0"/><rect x="195" y="711" width="1" height="30" fill="#c0c0c0"/><rect x="203" y="711" width="1" height="32" fill="#c0c0c0"/><rect x="211" y="711" width="1" height="31" fill="#c0c0c0"/><rect x="219" y="711" width="1" height="28" fill="#c0c0c0"/><rect x="227" y="711" width="1" height="23" fill="#c0c0c0"/><rect x="235" y="711" width="1" height="22" fill="#c0c0c0"/><rect x="243" y="711" width="1" height="19" fill="#c0c0c0"/><rect x="251" y="711" width="1" height="16" fill="#c0c0c0"/><rect x="259" y="711" width="1" height="15" fill="#c0c0c0"/><rect x="267" y="711" width="1" height="15" fill="#c0c0c0"/><rect x="275" y="711" width="1" height="13" fill="#c0c0c0"/><rect x="283" y="711" width="1" height="8" fill="#c0c0c0"/><rect x="291" y="711" width="1" height="4" fill="#c0c0c0"/><rect x="299" y="711" width="1" height="2" fill="#c0c0c0"/><rect x="307" y="711" width="1" height="3" fill="#c0c0c0"/><rect x="315" y="711" width="1" height="3" fill="#c0c0c0"/><rect x="323" y="711" width="1" height="8" fill="#c0c0c0"/><rect x="331" y="711" width="1" height="11" fill="#c0c0c0"/><rect x="339" y="711" width="1" height="14" fill="#c0c0c0"/><rect x="347" y="711" width="1" height="15" fill="#c0c0c0"/><rect x="355" y="711" width="1" height="18" fill="#c0c0c0"/><rect x="363" y="711" width="1" height="16" fill="#c0c0c0"/><rect x="371" y="711" width="1" height="16" fill="#c0c0c0"/><rect x="379" y="711" width="1" height="15" fill="#c0c0c0"/><rect x="387" y="711" width="1" height="13" fill="#c0c0c0"/><rect x="395" y="711" width="1" height="12" fill="#c0c0c0"/><rect x="403" y="711" width="1" height="10" fill="#c0c0c0"/><rect x="411" y="711" width="1" height="12" fill="#c0c0c0"/><rect x="419" y="711" width="1" height="17" fill="#c0c0c0"/><rect x="427" y="711" width="1" height="19" fill="#c0c0c0"/><rect x="435" y="711" width="1" height="21" fill="#c0c0c0"/><rect x="443" y="711" width="1" height="21" fill="#c0c0c0"/><rect x="451" y="711" width="1" height="15" fill="#c0c0c0"/><rect x="459" y="711" width="1" height="10" fill="#c0c0c0"/><rect x="467" y="711" width="1" height="1" fill="#c0c0c0"/><rect x="475" y="704" width="1" height="8" fill="#c0c0c0"/><rect x="483" y="699" width="1" height="13" fill="#c0c0c0"/><rect x="491" y="693" width="1" height="19" fill="#c0c0c0"/><rect x="499" y="690" width="1" height="22" fill="#c0c0c0"/><rect x="507" y="688" width="1" height="24" fill="#c0c0c0"/><rect x="515" y="687" width="1" height="25" fill="#c0c0c0"/><rect x="523" y="687" width="1" height="25" fill="#c0c0c0"/><rect x="531" y="687" width="1" height="25" fill="#c0c0c0"/><rect x="539" y="684" width="1" height="28" fill="#c0c0c0"/><rect x="547" y="683" width="1" height="29" fill="#c0c0c0"/><rect x="555" y="681" width="1" height="31" fill="#c0c0c0"/><rect x="563" y="683" width="1" height="29" fill="#c0c0c0"/><rect x="571" y="683" width="1" height="29" fill="#c0c0c0"/><rect x="579" y="683" width="1" height="29" fill="#c0c0c0"/><rect x="587" y="685" width="1" height="27" fill="#c0c0c0"/><rect x="595" y="683" width="1" height="29" fill="#c0c0c0"/><rect x="603" y="682" width="1" height="30" fill="#c0c0c0"/><rect x="611" y="681" width="1" height="31" fill="#c0c0c0"/><rect x="619" y="679" width="1" height="33" fill="#c0c0c0"/><rect x="627" y="678" width="1" height="34" fill="#c0c0c0"/><rect x="635" y="679" width="1" height="33" fill="#c0c0c0"/><rect x="643" y="680" width="1" height="32" fill="#c0c0c0"/><rect x="651" y="680" width="1" height="32" fill="#c0c0c0"/><rect x="659" y="678" width="1" height="34" fill="#c0c0c0"/><rect x="667" y="676" width="1" height="36" fill="#c0c0c0"/><rect x="675" y="676" width="1" height="36" fill="#c0c0c0"/><rect x="683" y="675" width="1" height="37" fill="#c0c0c0"/><rect x="691" y="677" width="1" height="35" fill="#c0c0c0"/><rect x="699" y="676" width="1" height="36" fill="#c0c0c0"/><rect x="707" y="673" width="1" height="39" fill="#c0c0c0"/><rect x="715" y="670" width="1" height="42" fill="#c0c0c0"/><rect x="723" y="668" width="1" height="44" fill="#c0c0c0"/><rect x="731" y="667" width="1" height="45" fill="#c0c0c0"/><rect x="739" y="667" width="1" height="45" fill="#c0c0c0"/><rect x="747" y="666" width="1" height="46" fill="#c0c0c0"/><rect x="755" y="662" width="1" height="50" fill="#c0c0c0"/><rect x="763" y="661" width="1" height="51" fill="#c0c0c0"/><rect x="771" y="660" width="1" height="52" fill="#c0c0c0"/><rect x="779" y="663" width="1" height="49" fill="#c0c0c0"/><rect x="787" y="668" width="1" height="44" fill="#c0c0c0"/><rect x="795" y="669" width="1" height="43" fill="#c0c0c0"/><rect x="803" y="670" width="1" height="42" fill="#c0c0c0"/><rect x="811" y="671" width="1" height="41" fill="#c0c0c0"/><rect x="819" y="673" width="1" height="39" fill="#c0c0c0"/><rect x="827" y="673" width="1" height="39" fill="#c0c0c0"/><rect x="835" y="670" width="1" height="42" fill="#c0c0c0"/><rect x="843" y="667" width="1" height="45" fill="#c0c0c0"/><rect x="851" y="666" width="1" height="46" fill="#c0c0c0"/><rect x="859" y="666" width="1" height="46" fill="#c0c0c0"/><rect x="867" y="664" width="1" height="48" fill="#c0c0c0"/><rect x="875" y="661" width="1" height="51" fill="#c0c0c0"/><rect x="883" y="661" width="1" height="51" fill="#c0c0c0"/><rect x="891" y="659" width="1" height="53" fill="#c0c0c0"/><rect x="899" y="660" width="1" height="52" fill="#c0c0c0"/><rect x="907" y="664" width="1" height="48" fill="#c0c0c0"/><rect x="915" y="666" width="1" height="46" fill="#c0c0c0"/><rect x="923" y="668" width="1" height="44" fill="#c0c0c0"/><rect x="931" y="668" width="1" height="44" fill="#c0c0c0"/><rect x="939" y="672" width="1" height="40" fill="#c0c0c0"/><rect x="947" y="675" width="1" height="37" fill="#c0c0c0"/><rect x="955" y="680" width="1" height="32" fill="#c0c0c0"/><rect x="963" y="682" width="1" height="30" fill="#c0c0c0"/><rect x="971" y="683" width="1" height="29" fill="#c0c0c0"/><rect x="979" y="682" width="1" height="30" fill="#c0c0c0"/><rect x="987" y="684" width="1" height="28" fill="#c0c0c0"/><rect x="995" y="687" width="1" height="25" fill="#c0c0c0"/><rect x="1003" y="689" width="1" height="23" fill="#c0c0c0"/><rect x="1011" y="690" width="1" height="22" fill="#c0c0c0"/><rect x="1019" y="693" width="1" height="19" fill="#c0c0c0"/><rect x="1027" y="697" width="1" height="15" fill="#c0c0c0"/><rect x="1035" y="700" width="1" height="12" fill="#c0c0c0"/><rect x="1043" y="704" width="1" height="8" fill="#c0c0c0"/><rect x="1051" y="708" width="1" height="4" fill="#c0c0c0"/><rect x="1059" y="711" width="1" height="3" fill="#c0c0c0"/><rect x="1067" y="711" width="1" height="5" fill="#c0c0c0"/><rect x="1075" y="711" width="1" height="8" fill="#c0c0c0"/><rect x="1083" y="711" width="1" height="7" fill="#c0c0c0"/><rect x="1091" y="711" width="1" height="5" fill="#c0c0c0"/><rect x="1099" y="711" width="1" height="2" fill="#c0c0c0"/><rect x="1107" y="710" width="1" height="2" fill="#c0c0c0"/><rect x="1115" y="707" width="1" height="5" fill="#c0c0c0"/><rect x="1123" y="703" width="1" height="9" fill="#c0c0c0"/><rect x="1131" y="701" width="1" height="11" fill="#c0c0c0"/><rect x="1139" y="699" width="1" height="13" fill="#c0c0c0"/><rect x="1147" y="696" width="1" height="16" fill="#c0c0c0"/><rect x="1155" y="694" width="1" height="18" fill="#c0c0c0"/><rect x="1163" y="695" width="1" height="17" fill="#c0c0c0"/><rect x="1171" y="696" width="1" height="16" fill="#c0c0c0"/><rect x="1179" y="690" width="1" height="22" fill="#c0c0c0"/><rect x="1187" y="686" width="1" height="26" fill="#c0c0c0"/><rect x="1195" y="681" width="1" height="31" fill="#c0c0c0"/><rect x="1203" y="678" width="1" height="34" fill="#c0c0c0"/><rect x="1211" y="674" width="1" height="38" fill="#c0c0c0"/><rect x="1219" y="670" width="1" height="42" fill="#c0c0c0"/><rect x="1227" y="679" width="1" height="33" fill="#c0c0c0"/><rect x="1235" y="687" width="1" height="25" fill="#c0c0c0"/><rect x="1243" y="692" width="1" height="20" fill="#c0c0c0"/><polyline points="3.5,689.7 11.5,687.1 19.5,684.5 27.5,682.2 35.5,680.5 43.5,679.4 51.5,678.7 59.5,678.5 67.5,679.0 75.5,680.2 83.5,682.0 91.5,684.4 99.5,686.8 107.5,688.8 115.5,690.4 123.5,691.7 131.5,692.9 139.5,693.6 147.5,694.2 155.5,695.3 163.5,696.9 171.5,699.3 179.5,702.8 187.5,707.2 195.5,712.5 203.5,717.8 211.5,723.1 219.5,727.8 227.5,731.5 235.5,734.3 243.5,735.8 251.5,736.0 259.5,735.0 267.5,733.3 275.5,731.3 283.5,728.7 291.5,726.1 299.5,723.8 307.5,721.7 315.5,719.9 323.5,719.0 331.5,718.5 339.5,718.4 347.5,718.6 355.5,719.6 363.5,721.0 371.5,722.5 379.5,723.9 387.5,724.9 395.5,725.4 403.5,725.2 411.5,725.0 419.5,725.1 427.5,725.3 435.5,725.8 443.5,726.4 451.5,726.4 459.5,726.1 467.5,724.8 475.5,723.0 483.5,720.3 491.5,716.5 499.5,712.0 507.5,707.2 515.5,702.2 523.5,697.9 531.5,694.1 539.5,691.1 547.5,688.7 555.5,686.8 563.5,685.7 571.5,684.9 579.5,684.3 587.5,684.1 595.5,683.6 603.5,683.1 611.5,682.7 619.5,682.3 627.5,681.9 635.5,681.3 643.5,681.0 651.5,680.8 659.5,679.9 667.5,679.2 675.5,678.5 683.5,677.8 691.5,677.6 699.5,677.4 707.5,676.7 715.5,675.6 723.5,674.2 731.5,673.0 739.5,671.9 747.5,670.8 755.5,669.4 763.5,667.7 771.5,665.9 779.5,664.9 787.5,664.7 795.5,664.8 803.5,665.1 811.5,665.5 819.5,666.4 827.5,667.6 835.5,668.6 843.5,669.3 851.5,669.6 859.5,669.3 867.5,668.8 875.5,667.8 883.5,666.7 891.5,665.1 899.5,663.6 907.5,663.0 915.5,663.0 923.5,663.2 931.5,663.5 939.5,664.4 947.5,666.0 955.5,668.1 963.5,670.7 971.5,673.2 979.5,675.1 987.5,677.1 995.5,679.2 1003.5,681.6 1011.5,683.5 1019.5,685.5 1027.5,687.4 1035.5,689.4 1043.5,691.7 1051.5,694.7 1059.5,697.9 1067.5,701.2 1075.5,704.5 1083.5,707.6 1091.5,710.2 1099.5,712.0 1107.5,713.2 1115.5,713.5 1123.5,712.9 1131.5,711.4 1139.5,709.5 1147.5,706.9 1155.5,704.3 1163.5,702.0 1171.5,700.0 1179.5,697.9 1187.5,695.6 1195.5,693.2 1203.5,690.6 1211.5,687.9 1219.5,685.1 1227.5,683.4 1235.5,682.5 1243.5,682.0" fill="none" stroke="#ff0000" stroke-width="1" stroke-dasharray="3,3"/></g><rect x="3" y="749" width="1" height="3" fill="#000"/><rect x="67" y="749" width="1" height="3" fill="#000"/><rect x="131" y="749" width="1" height="3" fill="#000"/><rect x="195" y="749" width="1" height="3" fill="#000"/><rect x="259" y="749" width="1" height="3" fill="#000"/><rect x="323" y="749" width="1" height="3" fill="#000"/><rect x="387" y="749" width="1" height="3" fill="#000"/><rect x="451" y="749" width="1" height="3" fill="#000"/><rect x="515" y="749" width="1" height="3" fill="#000"/><rect x="579" y="749" width="1" height="3" fill="#000"/><rect x="643" y="749" width="1" height="3" fill="#000"/><rect x="707" y="749" width="1" height="3" fill="#000"/><rect x="771" y="749" width="1" height="3" fill="#000"/><rect x="835" y="749" width="1" height="3" fill="#000"/><rect x="899" y="749" width="1" height="3" fill="#000"/><rect x="963" y="749" width="1" height="3" fill="#000"/><rect x="1027" y="749" width="1" height="3" fill="#000"/><rect x="1091" y="749" width="1" height="3" fill="#000"/><rect x="1155" y="749" width="1" height="3" fill="#000"/><rect x="1219" y="749" width="1" height="3" fill="#000"/><rect x="1580" y="711" width="1" height="1" fill="#000"/></svg><div class="t" style="left:18.3px;top:29px;font-size:10px;color:#000;transform:scale(0.94,0.88);transform-origin:0 8px;letter-spacing:0.2px;">AUDUSD,Daily</div><div class="t" style="left:89.8px;top:29px;font-size:10px;color:#000;transform:scale(0.926,0.88);transform-origin:0 8px;">0.77184 0.77714 0.77099 0.77574</div><div class="t" style="left:7px;top:560px;font-size:10px;color:#000;transform:scale(0.94,0.88);transform-origin:0 8px;">RSI(14) 48.8647</div><div class="t" style="left:7px;top:657px;font-size:10px;color:#000;transform:scale(0.94,0.88);transform-origin:0 8px;">MACD(12,26,9) 0.003057 0.004567</div><div class="t" style="left:1584.5px;top:83px;font-size:10px;color:#000;transform:scale(0.94,0.88);transform-origin:0 8px;">0.79320</div><div class="t" style="left:1584.5px;top:116px;font-size:10px;color:#000;transform:scale(0.94,0.88);transform-origin:0 8px;">0.78620</div><div class="t" style="left:1584.5px;top:149px;font-size:10px;color:#000;transform:scale(0.94,0.88);transform-origin:0 8px;">0.77940</div><div class="t" style="left:1584.5px;top:182px;font-size:10px;color:#000;transform:scale(0.94,0.88);transform-origin:0 8px;">0.77240</div><div class="t" style="left:1584.5px;top:215px;font-size:10px;color:#000;transform:scale(0.94,0.88);transform-origin:0 8px;">0.76560</div><div class="t" style="left:1584.5px;top:248px;font-size:10px;color:#000;transform:scale(0.94,0.88);transform-origin:0 8px;">0.75880</div><div class="t" style="left:1584.5px;top:281px;font-size:10px;color:#000;transform:scale(0.94,0.88);transform-origin:0 8px;">0.75180</div><div class="t" style="left:1584.5px;top:314px;font-size:10px;color:#000;transform:scale(0.94,0.88);transform-origin:0 8px;">0.74500</div><div class="t" style="left:1584.5px;top:347px;font-size:10px;color:#000;transform:scale(0.94,0.88);transform-origin:0 8px;">0.73820</div><div class="t" style="left:1584.5px;top:380px;font-size:10px;color:#000;transform:scale(0.94,0.88);transform-origin:0 8px;">0.73120</div><div class="t" style="left:1584.5px;top:413px;font-size:10px;color:#000;transform:scale(0.94,0.88);transform-origin:0 8px;">0.72440</div><div class="t" style="left:1584.5px;top:446px;font-size:10px;color:#000;transform:scale(0.94,0.88);transform-origin:0 8px;">0.71760</div><div class="t" style="left:1584.5px;top:479px;font-size:10px;color:#000;transform:scale(0.94,0.88);transform-origin:0 8px;">0.71060</div><div class="t" style="left:1584.5px;top:512px;font-size:10px;color:#000;transform:scale(0.94,0.88);transform-origin:0 8px;">0.70380</div><div class="t" style="left:1584.5px;top:545px;font-size:10px;color:#000;transform:scale(0.94,0.88);transform-origin:0 8px;">0.69700</div><div style="position:absolute;left:1581px;top:47px;width:39px;height:11px;background:#ff0000"></div><div class="t" style="left:1584.5px;top:49px;font-size:10px;color:#fff;transform:scale(0.94,0.88);transform-origin:0 8px;">0.80009</div><div style="position:absolute;left:1581px;top:95px;width:39px;height:11px;background:#ff0000"></div><div class="t" style="left:1584.5px;top:97px;font-size:10px;color:#fff;transform:scale(0.94,0.88);transform-origin:0 8px;">0.79012</div><div style="position:absolute;left:1581px;top:143px;width:39px;height:11px;background:#00ff00"></div><div class="t" style="left:1584.5px;top:145px;font-size:10px;color:#fff;transform:scale(0.94,0.88);transform-origin:0 8px;">0.78014</div><div style="position:absolute;left:1581px;top:201px;width:39px;height:11px;background:#0000ff"></div><div class="t" style="left:1584.5px;top:203px;font-size:10px;color:#fff;transform:scale(0.94,0.88);transform-origin:0 8px;">0.76809</div><div style="position:absolute;left:1581px;top:259px;width:39px;height:11px;background:#0000ff"></div><div class="t" style="left:1584.5px;top:261px;font-size:10px;color:#fff;transform:scale(0.94,0.88);transform-origin:0 8px;">0.75604</div><div style="position:absolute;left:1581px;top:165px;width:39px;height:11px;background:#000"></div><div class="t" style="left:1584.5px;top:166px;font-size:10px;color:#fff;transform:scale(0.94,0.88);transform-origin:0 8px;">0.77574</div><div class="t" style="left:1583px;top:557px;font-size:10px;color:#000;transform:scale(0.94,0.88);transform-origin:0 8px;">100</div><div class="t" style="left:1582px;top:580px;font-size:10px;color:#000;transform:scale(0.94,0.88);transform-origin:0 8px;">70</div><div class="t" style="left:1582px;top:617px;font-size:10px;color:#000;transform:scale(0.94,0.88);transform-origin:0 8px;">30</div><div class="t" style="left:1583px;top:639px;font-size:10px;color:#000;transform:scale(0.94,0.88);transform-origin:0 8px;">0</div><div class="t" style="left:1583px;top:655px;font-size:10px;color:#000;transform:scale(0.94,0.88);transform-origin:0 8px;">0.00884</div><div class="t" style="left:1583px;top:707px;font-size:10px;color:#000;transform:scale(0.94,0.88);transform-origin:0 8px;">0.00</div><div class="t" style="left:1583px;top:737px;font-size:10px;color:#000;transform:scale(0.94,0.88);transform-origin:0 8px;">-0.00565</div><div class="t" style="left:2px;top:753px;font-size:10px;color:#000;transform:scale(0.94,0.88);transform-origin:0 8px;">29 Aug 2020</div><div class="t" style="left:66px;top:753px;font-size:10px;color:#000;transform:scale(0.94,0.88);transform-origin:0 8px;">8 Sep 2020</div><div class="t" style="left:130px;top:753px;font-size:10px;color:#000;transform:scale(0.94,0.88);transform-origin:0 8px;">17 Sep 2020</div><div class="t" style="left:194px;top:753px;font-size:10px;color:#000;transform:scale(0.94,0.88);transform-origin:0 8px;">26 Sep 2020</div><div class="t" style="left:258px;top:753px;font-size:10px;color:#000;transform:scale(0.94,0.88);transform-origin:0 8px;">6 Oct 2020</div><div class="t" style="left:322px;top:753px;font-size:10px;color:#000;transform:scale(0.94,0.88);transform-origin:0 8px;">15 Oct 2020</div><div class="t" style="left:386px;top:753px;font-size:10px;color:#000;transform:scale(0.94,0.88);transform-origin:0 8px;">24 Oct 2020</div><div class="t" style="left:450px;top:753px;font-size:10px;color:#000;transform:scale(0.94,0.88);transform-origin:0 8px;">3 Nov 2020</div><div class="t" style="left:514px;top:753px;font-size:10px;color:#000;transform:scale(0.94,0.88);transform-origin:0 8px;">12 Nov 2020</div><div class="t" style="left:578px;top:753px;font-size:10px;color:#000;transform:scale(0.94,0.88);transform-origin:0 8px;">21 Nov 2020</div><div class="t" style="left:642px;top:753px;font-size:10px;color:#000;transform:scale(0.94,0.88);transform-origin:0 8px;">1 Dec 2020</div><div class="t" style="left:706px;top:753px;font-size:10px;color:#000;transform:scale(0.94,0.88);transform-origin:0 8px;">10 Dec 2020</div><div class="t" style="left:770px;top:753px;font-size:10px;color:#000;transform:scale(0.94,0.88);transform-origin:0 8px;">19 Dec 2020</div><div class="t" style="left:834px;top:753px;font-size:10px;color:#000;transform:scale(0.94,0.88);transform-origin:0 8px;">30 Dec 2020</div><div class="t" style="left:898px;top:753px;font-size:10px;color:#000;transform:scale(0.94,0.88);transform-origin:0 8px;">9 Jan 2021</div><div class="t" style="left:962px;top:753px;font-size:10px;color:#000;transform:scale(0.94,0.88);transform-origin:0 8px;">19 Jan 2021</div><div class="t" style="left:1026px;top:753px;font-size:10px;color:#000;transform:scale(0.94,0.88);transform-origin:0 8px;">28 Jan 2021</div><div class="t" style="left:1090px;top:753px;font-size:10px;color:#000;transform:scale(0.94,0.88);transform-origin:0 8px;">6 Feb 2021</div><div class="t" style="left:1154px;top:753px;font-size:10px;color:#000;transform:scale(0.94,0.88);transform-origin:0 8px;">16 Feb 2021</div><div class="t" style="left:1218px;top:753px;font-size:10px;color:#000;transform:scale(0.94,0.88);transform-origin:0 8px;">25 Feb 2021</div><div style="position:absolute;left:0;top:766px;width:1620px;height:31px;background:#fff"></div><div style="position:absolute;left:0;top:769px;width:1620px;height:1px;background:#e3e3e3"></div><div style="position:absolute;left:0;top:771px;width:1620px;height:1px;background:#000"></div><div style="position:absolute;left:0;top:772px;width:1620px;height:19px;background:#f0f0f0"></div><div style="position:absolute;left:0;top:791px;width:1620px;height:1px;background:#fafafa"></div><div style="position:absolute;left:0;top:795px;width:1620px;height:1px;background:#a0a0a0"></div><div style="position:absolute;left:0;top:792px;width:1620px;height:3px;background:#f0f0f0"></div><div style="position:absolute;left:208px;top:771px;width:104px;height:19px;background:#fff;border-left:1px solid #000;border-right:1px solid #000;border-bottom:1px solid #000;box-sizing:border-box"></div><div class="t" style="left:16px;top:776px;font-size:12.5px;color:#6d6d6d;transform:scaleX(0.975);transform-origin:0 0">EURUSD,Daily</div><div class="t" style="left:118px;top:776px;font-size:12.5px;color:#6d6d6d;transform:scaleX(0.975);transform-origin:0 0">USDCHF,Daily</div><div style="position:absolute;left:107px;top:775px;width:1px;height:13px;background:#6d6d6d"></div><div class="t" style="left:219px;top:776px;font-size:12.5px;color:#000;transform:scaleX(0.975);transform-origin:0 0">AUDUSD,Daily</div><div class="t" style="left:324px;top:776px;font-size:12.5px;color:#6d6d6d;transform:scaleX(0.975);transform-origin:0 0">USDCAD,Daily</div><div class="t" style="left:427px;top:776px;font-size:12.5px;color:#6d6d6d;transform:scaleX(0.975);transform-origin:0 0">USDCNH,Daily</div><div style="position:absolute;left:416px;top:775px;width:1px;height:13px;background:#6d6d6d"></div><div class="t" style="left:532px;top:776px;font-size:12.5px;color:#6d6d6d;transform:scaleX(0.975);transform-origin:0 0">EURUSD,Daily</div><div style="position:absolute;left:521px;top:775px;width:1px;height:13px;background:#6d6d6d"></div><div class="t" style="left:636px;top:776px;font-size:12.5px;color:#6d6d6d;transform:scaleX(0.975);transform-origin:0 0">GBPUSD,H4</div><div style="position:absolute;left:624px;top:775px;width:1px;height:13px;background:#6d6d6d"></div><div class="t" style="left:727px;top:776px;font-size:12.5px;color:#6d6d6d;transform:scaleX(0.975);transform-origin:0 0">XAUUSD,H1</div><div style="position:absolute;left:716px;top:775px;width:1px;height:13px;background:#6d6d6d"></div><div class="t" style="left:819px;top:776px;font-size:12.5px;color:#6d6d6d;transform:scaleX(0.975);transform-origin:0 0">HK50,H1</div><div style="position:absolute;left:808px;top:775px;width:1px;height:13px;background:#6d6d6d"></div><div class="t" style="left:891px;top:776px;font-size:12.5px;color:#6d6d6d;transform:scaleX(0.975);transform-origin:0 0">UK100,H1</div><div style="position:absolute;left:880px;top:775px;width:1px;height:13px;background:#6d6d6d"></div><div class="t" style="left:971px;top:776px;font-size:12.5px;color:#6d6d6d;transform:scaleX(0.975);transform-origin:0 0">UK100,H1</div><div style="position:absolute;left:960px;top:775px;width:1px;height:13px;background:#6d6d6d"></div><div class="t" style="left:1051px;top:776px;font-size:12.5px;color:#6d6d6d;transform:scaleX(0.975);transform-origin:0 0">GER30,H1</div><div style="position:absolute;left:1040px;top:775px;width:1px;height:13px;background:#6d6d6d"></div><div class="t" style="left:1130px;top:776px;font-size:12.5px;color:#6d6d6d;transform:scaleX(0.975);transform-origin:0 0">FRA40,H1</div><div style="position:absolute;left:1120px;top:775px;width:1px;height:13px;background:#6d6d6d"></div><div class="t" style="left:1206px;top:776px;font-size:12.5px;color:#6d6d6d;transform:scaleX(0.975);transform-origin:0 0">USOil,Daily</div><div style="position:absolute;left:1196px;top:775px;width:1px;height:13px;background:#6d6d6d"></div><div class="t" style="left:1290px;top:776px;font-size:12.5px;color:#6d6d6d;transform:scaleX(0.975);transform-origin:0 0">USDJPY,H1</div><div style="position:absolute;left:1280px;top:775px;width:1px;height:13px;background:#6d6d6d"></div><div class="t" style="left:1374px;top:776px;font-size:12.5px;color:#6d6d6d;transform:scaleX(0.975);transform-origin:0 0">DJ30,Daily</div><div style="position:absolute;left:1363px;top:775px;width:1px;height:13px;background:#6d6d6d"></div><div class="t" style="left:1454px;top:776px;font-size:12.5px;color:#6d6d6d;transform:scaleX(0.975);transform-origin:0 0">CHINA300,H1</div><div style="position:absolute;left:1443px;top:775px;width:1px;height:13px;background:#6d6d6d"></div><div class="t" style="left:1555px;top:776px;font-size:12.5px;color:#6d6d6d;transform:scaleX(0.975);transform-origin:0 0">USOil,</div><div style="position:absolute;left:1544px;top:775px;width:1px;height:13px;background:#6d6d6d"></div><svg width="30" height="12" style="position:absolute;left:1590px;top:774px"><path d="M4.5 6.5 L8 3 L8 10 Z" fill="#a0a0a0"/><path d="M23.5 3 L27 6.5 L23.5 10 Z" fill="#000"/></svg>
</body></html>
